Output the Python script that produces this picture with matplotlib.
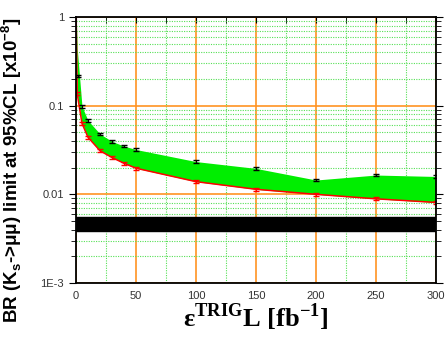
import numpy as np
import matplotlib
matplotlib.use("Agg")
import matplotlib.pyplot as plt
from matplotlib.ticker import FixedLocator, LogLocator, NullFormatter, FixedFormatter

# ---- data ----
lumi_upper = [0.1, 2, 5, 10, 20, 30, 40, 50, 100, 150, 200, 250, 300]
br_upper = [1.2, 0.216, 0.098, 0.068, 0.048, 0.0395, 0.035, 0.032, 0.0234, 0.0196, 0.0145, 0.0165, 0.0159]
lumi_lower = [0.1, 1, 5, 10, 20, 30, 40, 50, 100, 150, 200, 250, 300]
br_lower = [1.08, 0.136, 0.063, 0.044, 0.031, 0.026, 0.0224, 0.0197, 0.0139, 0.0114, 0.0100, 0.0089, 0.0081]
sm_low, sm_high = 0.0039, 0.0056
x_ticks = [0, 50, 100, 150, 200, 250, 300]
y_ticks = [1e-3, 1e-2, 1e-1, 1]
y_ticklabels = ["1E-3", "0.01", "0.1", "1"]

orange = "#ff9422"
green_grid = "#55e055"

fig = plt.figure(figsize=(4.45, 3.39), dpi=100)
ax = fig.add_axes([0.1708, 0.1652, 0.9798 - 0.1708, 0.9499 - 0.1652])
ax.set_yscale("log")
ax.set_xlim(0, 300)
ax.set_ylim(1e-3, 1)

# grids
ax.xaxis.set_major_locator(FixedLocator(x_ticks))
ax.xaxis.set_minor_locator(FixedLocator([25, 75, 125, 175, 225, 275]))
ax.yaxis.set_major_locator(FixedLocator(y_ticks))
ax.yaxis.set_minor_locator(LogLocator(base=10, subs=np.arange(2, 10)))
ax.yaxis.set_major_formatter(FixedFormatter(y_ticklabels))
ax.yaxis.set_minor_formatter(NullFormatter())
ax.grid(which="major", color=orange, lw=1.2, ls="-", zorder=0)
ax.grid(which="minor", color=green_grid, lw=0.8, ls=(0, (1, 1.2)), zorder=0)
ax.set_axisbelow(True)

# band between limits
xs = np.array(lumi_lower, dtype=float)
upper_interp = np.interp(np.log(xs), np.log(lumi_upper), br_upper)
ax.fill_between(xs, br_lower, upper_interp, color="#00ee00", lw=0, zorder=2)
ax.plot(lumi_lower, br_lower, color="red", lw=1.1, zorder=3)

ax.errorbar(lumi_upper, br_upper, yerr=np.array(br_upper) * 0.035, fmt="none",
            ecolor="black", elinewidth=0.9, capsize=2.5, capthick=1, zorder=4)
ax.errorbar(lumi_lower, br_lower, yerr=np.array(br_lower) * 0.035, fmt="none",
            ecolor="red", elinewidth=0.9, capsize=2.5, capthick=1, zorder=4)

# SM band
ax.axhspan(sm_low, sm_high, color="black", zorder=5)

# ticks
ax.tick_params(axis="x", which="both", bottom=False, top=True, direction="in",
               length=4, labelsize=8, labelcolor="#333333", pad=6)
ax.tick_params(axis="y", which="both", left=True, right=True, direction="out",
               labelsize=8, labelcolor="#333333")
ax.tick_params(axis="y", which="major", length=5)
ax.tick_params(axis="y", which="minor", length=3.5)
for lab in ax.get_xticklabels() + ax.get_yticklabels():
    lab.set_family("Liberation Sans")
for sp in ax.spines.values():
    sp.set_linewidth(1.3)
    sp.set_zorder(6)

ax.set_ylabel(r"BR (K$_{\mathregular{s}}$->μμ) limit at 95%CL [x10$^{\mathregular{-8}}$]",
              family="Liberation Sans", fontweight="bold", fontsize=13.5, labelpad=8)
ax.yaxis.set_label_coords(-0.145, 0.425)
ax.set_xlabel(r"ε$^{\mathregular{TRIG}}$L [fb$^{\mathregular{-1}}$]",
              family="Liberation Serif", fontweight="bold", fontsize=19, labelpad=0)

fig.savefig("out.png", dpi=100)
